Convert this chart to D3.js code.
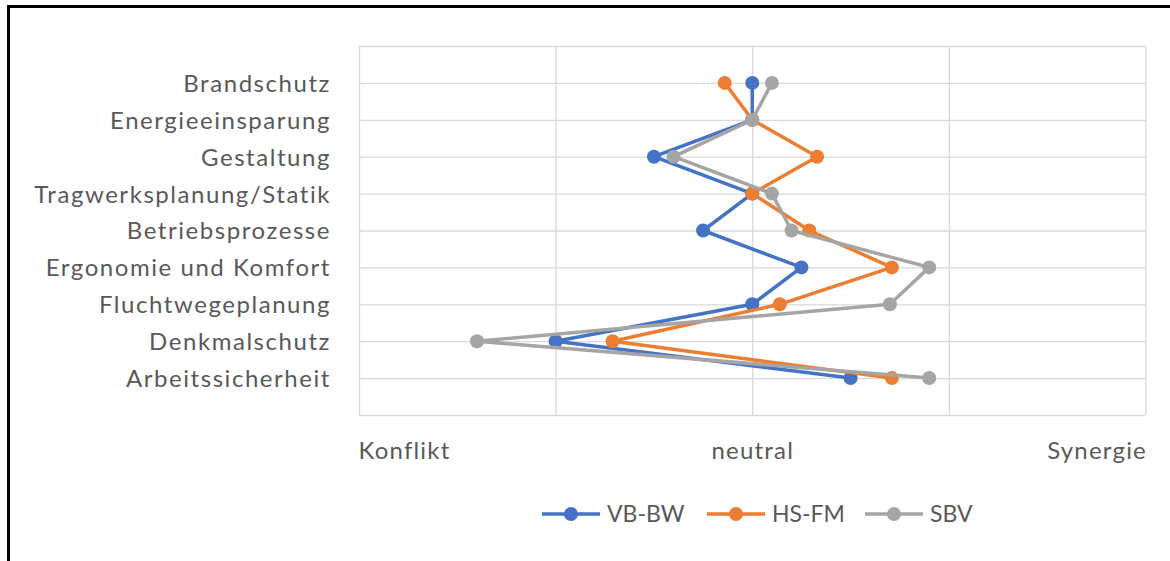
<!DOCTYPE html>
<html>
<head>
<meta charset="utf-8">
<script src="https://cdn.jsdelivr.net/npm/d3@7"></script>
<style>
  body { margin: 0; background: #fff; }
  svg { display: block; }
  text { font-family: Lato, "Open Sans", sans-serif; fill: #595959; }
</style>
</head>
<body>
<div id="chart"></div>
<script>
// data
var categories = ["Brandschutz", "Energieeinsparung", "Gestaltung", "Tragwerksplanung/Statik",
  "Betriebsprozesse", "Ergonomie und Komfort", "Fluchtwegeplanung", "Denkmalschutz", "Arbeitssicherheit"];
var seriesNames = ["VB-BW", "HS-FM", "SBV"];
var vbbw = [0, 0, -0.5, 0, -0.25, 0.25, 0, -1, 0.5];
var hsfm = [-0.14, 0, 0.33, 0, 0.29, 0.71, 0.14, -0.71, 0.71];
var sbv = [0.1, 0, -0.4, 0.1, 0.2, 0.9, 0.7, -1.4, 0.9];
var xTickValues = [-2, 0, 2];
var xTickLabels = ["Konflikt", "neutral", "Synergie"];
var colors = ["#4472C4", "#ED7D31", "#A5A5A5"];

var W = 1170, H = 561;
var svg = d3.select("#chart").append("svg").attr("width", W).attr("height", H);

// frame (only top and left edge inside the picture)
svg.append("path").attr("d", "M8.5,561V6.5H1170").attr("fill", "none")
  .attr("stroke", "#000").attr("stroke-width", 3);

var x = d3.scaleLinear().domain([-2, 2]).range([359, 1145.5]);
var y = d3.scaleLinear().domain([0, 10]).range([46, 415]);

// vertical grid
var xGrid = svg.append("g").attr("transform", "translate(0,46)")
  .call(d3.axisBottom(x).tickValues([-2, -1, 0, 1, 2]).tickSize(369).tickFormat(""));
xGrid.select(".domain").remove();
xGrid.selectAll("line").attr("stroke", "#d9d9d9").attr("stroke-width", 1.3);

// horizontal grid
var yGrid = svg.append("g").attr("transform", "translate(359,0)")
  .call(d3.axisRight(y).ticks(10).tickSize(786.5).tickFormat(""));
yGrid.select(".domain").remove();
yGrid.selectAll("line").attr("stroke", "#d9d9d9").attr("stroke-width", 1.3);

// category labels
var yAxis = svg.append("g").attr("transform", "translate(331,0)")
  .call(d3.axisLeft(y).tickValues(d3.range(1, 10)).tickSize(0)
    .tickFormat(function (d) { return categories[d - 1]; }));
yAxis.select(".domain").remove();
yAxis.selectAll("text").attr("x", 0).attr("dy", "0.35em")
  .style("font-size", "24px").style("letter-spacing", "1.55px").attr("fill", "#595959");

// x labels
var xAxis = svg.append("g").attr("transform", "translate(0,451)")
  .call(d3.axisBottom(x).tickValues(xTickValues).tickSize(0)
    .tickFormat(function (d, i) { return xTickLabels[i]; }));
xAxis.select(".domain").remove();
xAxis.selectAll("text").attr("y", 0).attr("dy", "0.35em")
  .style("font-size", "24px").style("letter-spacing", "1.2px").attr("fill", "#595959")
  .attr("x", function (d, i) { return i === 0 ? -1 : (i === 2 ? 1 : 0); })
  .attr("text-anchor", function (d, i) { return i === 0 ? "start" : (i === 2 ? "end" : "middle"); });

// series
var allSeries = [vbbw, hsfm, sbv];
var line = d3.line()
  .x(function (d) { return x(d); })
  .y(function (d, i) { return y(i + 1); });

allSeries.forEach(function (data, s) {
  var g = svg.append("g");
  g.append("path").attr("d", line(data)).attr("fill", "none")
    .attr("stroke", colors[s]).attr("stroke-width", 3.5).attr("stroke-linejoin", "round");
  g.selectAll("circle").data(data).enter().append("circle")
    .attr("cx", function (d) { return x(d); })
    .attr("cy", function (d, i) { return y(i + 1); })
    .attr("r", 7).attr("fill", colors[s]);
});

// legend
var legendX = [542, 707, 865];
var legend = svg.append("g").attr("transform", "translate(0,514)");
seriesNames.forEach(function (name, s) {
  var lg = legend.append("g").attr("transform", "translate(" + legendX[s] + ",0)");
  lg.append("line").attr("x1", 0).attr("x2", 58).attr("y1", 0).attr("y2", 0)
    .attr("stroke", colors[s]).attr("stroke-width", 3.5);
  lg.append("circle").attr("cx", 29).attr("cy", 0).attr("r", 7).attr("fill", colors[s]);
  lg.append("text").attr("x", 65).attr("y", 0).attr("dy", "0.35em")
    .style("font-size", "23px").text(name);
});
</script>
</body>
</html>
